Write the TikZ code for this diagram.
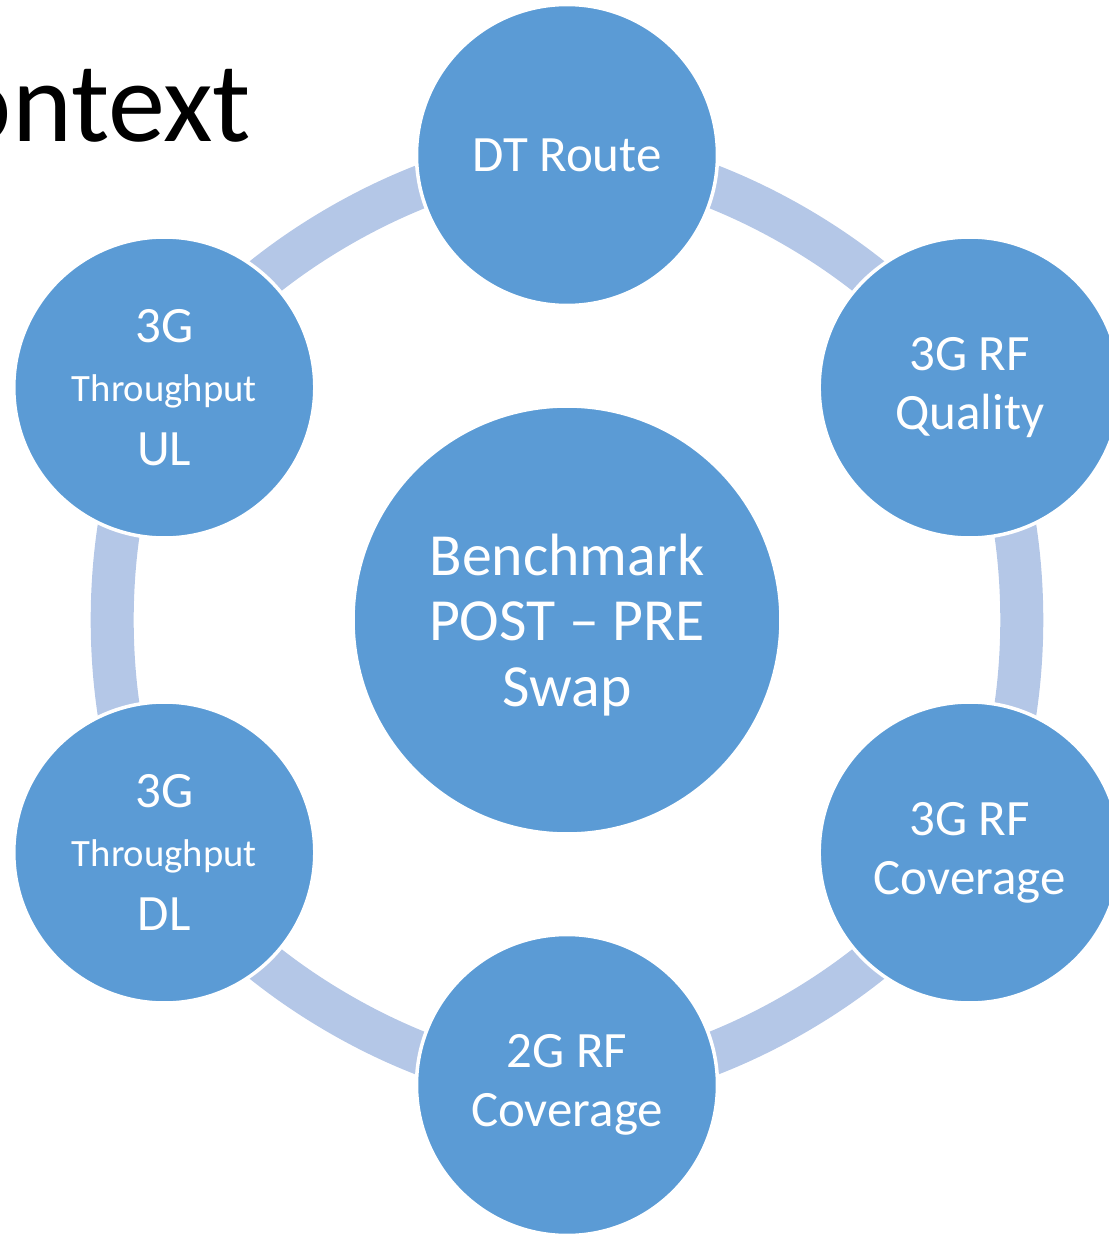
\documentclass[tikz,border=0pt]{standalone}
\usepackage{fontspec}
\setmainfont{Carlito}
\usetikzlibrary{backgrounds}
\definecolor{blobblue}{RGB}{91,155,213}
\definecolor{ringblue}{RGB}{180,199,231}
\tikzset{
    hubnode/.style={circle, fill=blobblue, draw=white, line width=1pt, minimum size=4.28cm, inner sep=0pt, text=white, align=center, font=\fontsize{17}{18.6}\selectfont},
    satnode/.style={circle, fill=blobblue, draw=white, line width=1pt, minimum size=3.01cm, inner sep=0pt, text=white, align=center, font=\fontsize{14.5}{16.8}\selectfont},
    ringarc/.style={draw=ringblue, line width=0.43cm, bend left=30, looseness=0.766}
}
\newcommand{\thr}{\fontsize{11}{16.8}\selectfont Throughput}

\begin{document}
\begin{tikzpicture}
        \useasboundingbox (-5.67,6.20) rectangle (5.42,-6.15);
        % slide title, cut at the left
        \node[anchor=base east, inner sep=0pt, font=\fontsize{32.5}{38}\selectfont] (title) at (-3.15,4.78) {ontext};

        \node[hubnode, text depth=0pt] (bench) at (0,0) {Benchmark\\POST – PRE\\Swap};
        \node[satnode] (route) at (90:4.65) {DT Route};
        \node[satnode] (quality) at (30:4.65) {3G RF\\Quality};
        \node[satnode] (cov3g) at (-30:4.65) {3G RF\\Coverage};
        \node[satnode] (cov2g) at (-90:4.65) {2G RF\\Coverage};
        \node[satnode] (thrdl) at (210:4.65) {3G\\\thr\\[1.4pt]DL};
        \node[satnode] (thrul) at (150:4.65) {3G\\\thr\\[1.4pt]UL};

        \begin{scope}[on background layer]
        \draw[ringarc] (route.center) to (quality.center);
        \draw[ringarc] (quality.center) to (cov3g.center);
        \draw[ringarc] (cov3g.center) to (cov2g.center);
        \draw[ringarc] (cov2g.center) to (thrdl.center);
        \draw[ringarc] (thrdl.center) to (thrul.center);
        \draw[ringarc] (thrul.center) to (route.center);
        \end{scope}
    \end{tikzpicture}
\end{document}
